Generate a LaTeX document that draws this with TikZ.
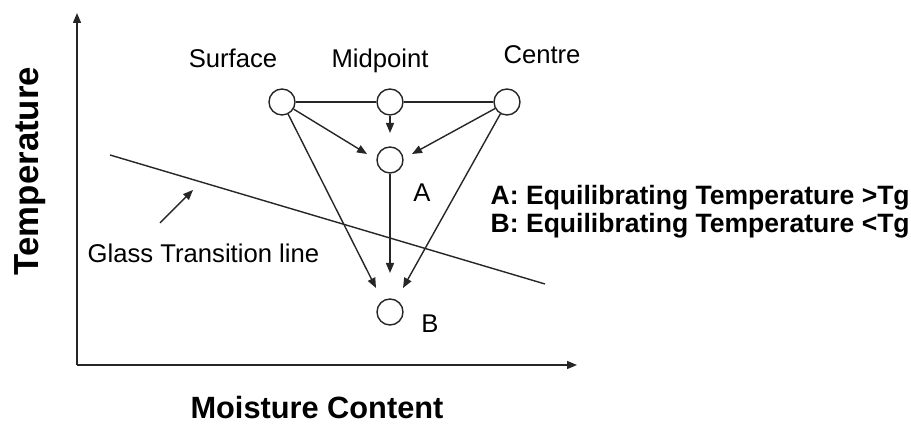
\documentclass[tikz,border=0pt]{standalone}
\usepackage{fontspec}
\setmainfont{Liberation Sans}
\usetikzlibrary{arrows.meta}

\begin{document}
\begin{tikzpicture}[
    line width=0.8pt, draw=black!85,
    >={Triangle[length=2mm,width=1.6mm]},
    pt/.style={circle,draw,minimum size=0.52cm,inner sep=0pt},
    txt/.style={font=\fontsize{14.6}{17}\selectfont,inner sep=0pt,anchor=base},
    key/.style={font=\fontsize{15.1}{18}\selectfont\bfseries,inner sep=0pt,anchor=base west}
  ]
  \useasboundingbox (0,0) rectangle (18.22,8.5);

  % axes
  \coordinate (O) at (1.54,1.2);
  \coordinate (ytop) at (1.54,8.24);
  \coordinate (xend) at (11.54,1.2);
  \draw [->] (O) -- (ytop);
  \draw [->] (O) -- (xend);
  \node[font=\fontsize{19.8}{22}\selectfont\bfseries,rotate=90] (T) at (0.6,5.08) {Temperature};
  \node[font=\fontsize{17.5}{20}\selectfont\bfseries,inner sep=0pt,anchor=base] (MC) at (6.34,0.12) {Moisture Content};

  % points
  \node[pt] (S) at (5.64,6.46) {};
  \node[pt] (M) at (7.8,6.46) {};
  \node[pt] (C) at (10.14,6.46) {};
  \node[pt] (A) at (7.8,5.3) {};
  \node[pt] (B) at (7.8,2.26) {};

  \node[txt] (Slbl) at (4.66,7.14) {Surface};
  \node[txt] (Mlbl) at (7.6,7.14) {Midpoint};
  \node[txt] (Clbl) at (10.84,7.22) {Centre};
  \node[txt] (Albl) at (8.44,4.46) {A};
  \node[txt] (Blbl) at (8.6,1.84) {B};

  % arrow ends
  \coordinate (sa) at (7.34,5.42);
  \coordinate (ma) at (7.8,5.84);
  \coordinate (ca) at (8.24,5.42);
  \coordinate (sb) at (7.52,2.74);
  \coordinate (ab) at (7.8,3.04);
  \coordinate (cb) at (8.06,2.74);

  \draw (S) -- (M) -- (C);
  \draw [->] (S) -- (sa);
  \draw [->] (M) -- (ma);
  \draw [->] (C) -- (ca);
  \draw [->] (S) -- (sb);
  \draw [->] (A) -- (ab);
  \draw [->] (C) -- (cb);

  % glass transition
  \coordinate (g1) at (2.2,5.4);
  \coordinate (g2) at (10.9,2.82);
  \draw (g1) -- (g2);
  \coordinate (gt) at (3.2,4.04);
  \coordinate (gh) at (3.86,4.7);
  \draw [->] (gt) -- (gh);
  \node[txt,anchor=base west] (G) at (1.74,3.24) {Glass Transition line};

  \node[key] (kA) at (9.8,4.4) {A: Equilibrating Temperature >Tg};
  \node[key] (kB) at (9.8,3.84) {B: Equilibrating Temperature <Tg};
\end{tikzpicture}
\end{document}
